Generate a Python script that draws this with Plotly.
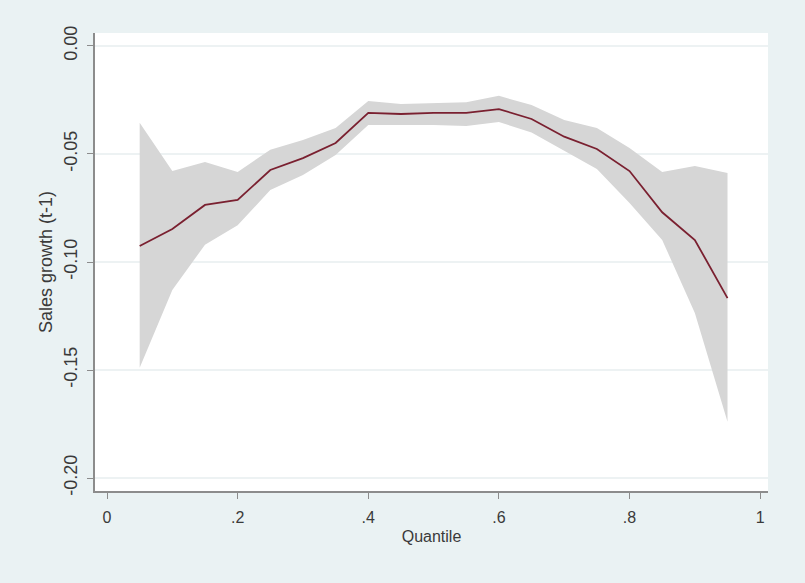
import plotly.graph_objects as go

quantile = [0.05, 0.10, 0.15, 0.20, 0.25, 0.30, 0.35, 0.40, 0.45, 0.50,
            0.55, 0.60, 0.65, 0.70, 0.75, 0.80, 0.85, 0.90, 0.95]
coef = [-0.0926, -0.0847, -0.0736, -0.0713, -0.0574, -0.0519, -0.0449, -0.0310, -0.0315, -0.0310,
        -0.0310, -0.0292, -0.0338, -0.0420, -0.0477, -0.0579, -0.0770, -0.0898, -0.1167]
upper = [-0.0356, -0.0579, -0.0537, -0.0583, -0.0480, -0.0435, -0.0380, -0.0255, -0.0269, -0.0264,
         -0.0260, -0.0231, -0.0273, -0.0343, -0.0380, -0.0472, -0.0583, -0.0556, -0.0588]
lower = [-0.1490, -0.1130, -0.0920, -0.0830, -0.0667, -0.0597, -0.0505, -0.0366, -0.0366, -0.0366,
         -0.0370, -0.0352, -0.0400, -0.0486, -0.0570, -0.0727, -0.0898, -0.1236, -0.1740]

x_ticks = [0, 0.2, 0.4, 0.6, 0.8, 1]
x_labels = ["0", ".2", ".4", ".6", ".8", "1"]
y_ticks = [0, -0.05, -0.10, -0.15, -0.20]
y_labels = ["0.00", "-0.05", "-0.10", "-0.15", "-0.20"]

fig = go.Figure()
fig.add_trace(go.Scatter(x=quantile, y=upper, mode="lines", line=dict(width=0),
                         showlegend=False, hoverinfo="skip"))
fig.add_trace(go.Scatter(x=quantile, y=lower, mode="lines", line=dict(width=0),
                         fill="tonexty", fillcolor="#D6D6D6", showlegend=False, hoverinfo="skip"))
fig.add_trace(go.Scatter(x=quantile, y=coef, mode="lines",
                         line=dict(color="#7A2030", width=1.8), showlegend=False))

fam = "Liberation Sans, Arial, sans-serif"
fig.update_layout(
    width=805, height=583,
    margin=dict(l=95, r=37, t=33, b=92),
    paper_bgcolor="#EAF2F3",
    plot_bgcolor="#FFFFFF",
    font=dict(family=fam, size=16, color="#3A3A3A"),
    xaxis=dict(range=[-0.0184, 1.012], tickvals=x_ticks, ticktext=x_labels,
               tickfont=dict(size=16), ticklabelstandoff=5,
               showline=True, linecolor="#8C8C8C", linewidth=2,
               ticks="outside", ticklen=6, tickcolor="#8C8C8C",
               showgrid=False, zeroline=False,
               title=dict(text="Quantile", standoff=6, font=dict(size=16))),
    yaxis=dict(range=[-0.206, 0.006], tickvals=y_ticks, ticktext=y_labels,
               tickangle=-90, tickfont=dict(size=18), ticklabelstandoff=3,
               showline=True, linecolor="#8C8C8C", linewidth=2,
               ticks="outside", ticklen=6, tickcolor="#8C8C8C",
               showgrid=True, gridcolor="#EDF2F3", gridwidth=1.5,
               zeroline=False,
               title=dict(text="Sales growth (t-1)", standoff=3, font=dict(size=18))),
)

fig.write_html("out.html", config={"displayModeBar": False},
               post_script="document.body.style.margin='0px';document.body.style.background='#EAF2F3';")
